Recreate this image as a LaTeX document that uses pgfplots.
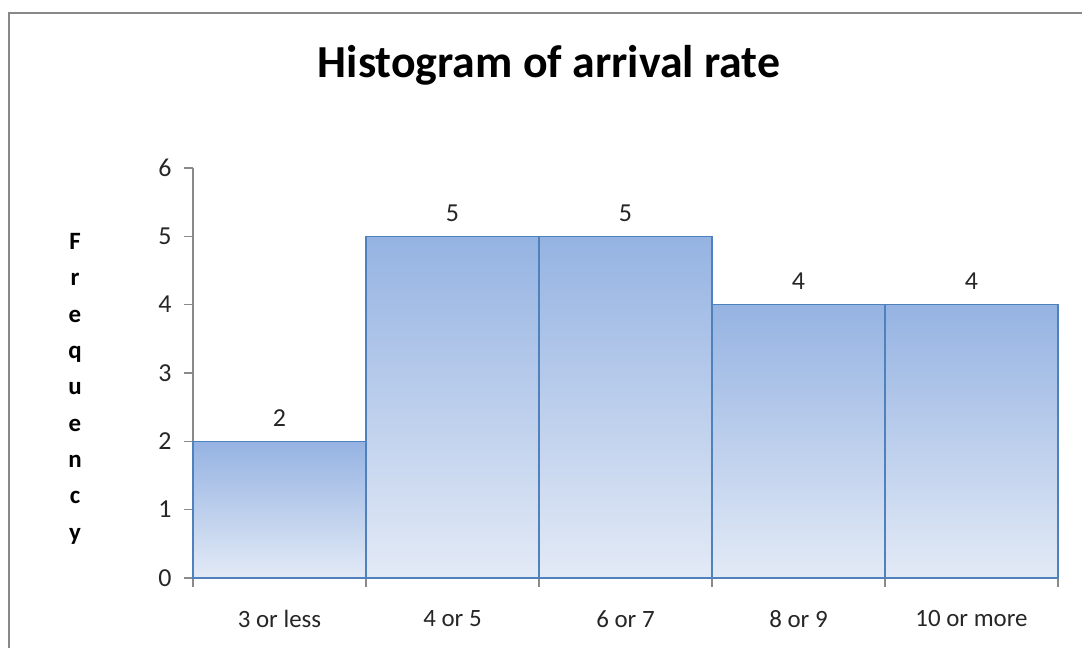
\documentclass[border=0pt]{standalone}
\usepackage{fontspec}
\setmainfont{Carlito}
\usepackage{pgfplots}
\pgfplotsset{compat=1.18}
\definecolor{axisgray}{HTML}{8A8A8A}
\definecolor{framegray}{HTML}{888888}
\definecolor{barline}{HTML}{4F81BD}
\definecolor{bartop}{HTML}{95B3E2}
\definecolor{barbot}{HTML}{E3EAF6}
\definecolor{txt}{HTML}{262626}
\pgfplotsset{barstyle/.style={bar shift=0pt, draw=barline, line width=1.6bp, top color=bartop, bottom color=barbot}}
\begin{document}
\begin{tikzpicture}[x=1bp,y=1bp]
\path[use as bounding box] (0,0) rectangle (1082,648);
\fill[white] (0,0) rectangle (1082,648);
\draw[framegray, line width=1.5bp] (9,-2) -- (9,635) -- (1084,635);
\node[font=\fontsize{46}{52}\selectfont\bfseries, anchor=base] at (549,570) {Histogram of arrival rate};
\node[font=\fontsize{25}{36.5}\selectfont\bfseries, align=center, inner sep=0pt, anchor=north] at (75,415) {F\\r\\e\\q\\u\\e\\n\\c\\y};
\begin{axis}[
  at={(193bp,70bp)}, anchor=south west,
  scale only axis, width=865bp, height=410bp,
  xmin=-0.5, xmax=4.5, ymin=0, ymax=6,
  axis x line*=bottom, axis y line*=left,
  axis line style={axisgray, line width=1.2bp},
  tick align=outside, major tick length=9bp,
  tick style={axisgray, line width=1.2bp},
  ytick={0,...,6},
  xtick={-0.5,0.5,...,4.5},
  xticklabels={3 or less,4 or 5,6 or 7,8 or 9,10 or more,},
  xticklabel style={xshift=86.5bp, yshift=-20bp, font=\fontsize{25}{30}\selectfont},
  yticklabel style={xshift=-9bp, font=\fontsize{26}{30}\selectfont},
  ticklabel style={text=txt},
  /pgf/number format/assume math mode=true,
  ybar, bar width=1,
  nodes near coords,
  nodes near coords style={font=\fontsize{26}{30}\selectfont, text=txt, anchor=south, inner sep=0pt, yshift=14bp},
  clip=false,
]
\addplot[barstyle] coordinates {(0,2)};
\addplot[barstyle] coordinates {(1,5)};
\addplot[barstyle] coordinates {(2,5)};
\addplot[barstyle] coordinates {(3,4)};
\addplot[barstyle] coordinates {(4,4)};
\end{axis}
\end{tikzpicture}
\end{document}
